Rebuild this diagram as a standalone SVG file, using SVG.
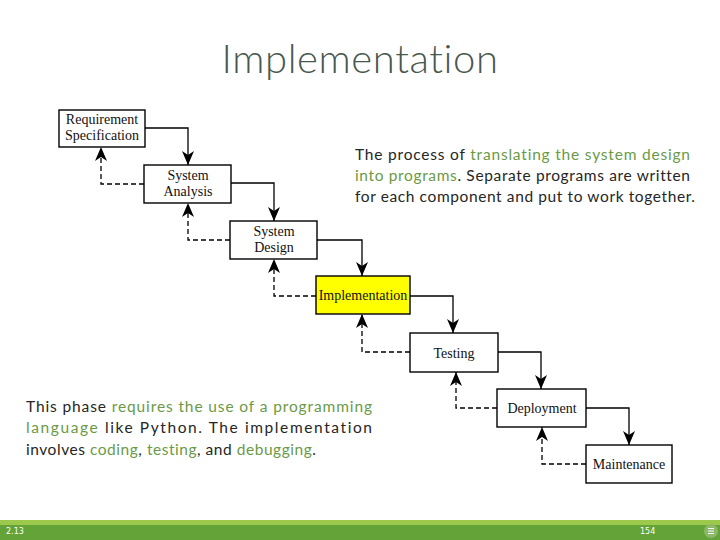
<svg xmlns="http://www.w3.org/2000/svg" width="720" height="540" viewBox="0 0 720 540">
<defs>
<marker id="ah" viewBox="0 0 14 12" refX="14" refY="6" markerWidth="14" markerHeight="12" markerUnits="userSpaceOnUse" orient="auto">
<path d="M0,0 L4,6 L0,12 L14,6 Z" fill="#000"/>
</marker>
<style>
text{font-variant-ligatures:none}
.box{fill:#fff;stroke:#000;stroke-width:1.4}
.lbl{font-family:"Liberation Serif","Times New Roman",serif;font-size:14px;fill:#111;text-anchor:middle}
.fw{fill:none;stroke:#000;stroke-width:1.3}
.bw{fill:none;stroke:#000;stroke-width:1.3;stroke-dasharray:5,3}
.para{font-family:Lato,"Open Sans",sans-serif;font-size:15.5px;fill:#262626}
.g{fill:#6b9a47}
.foot{font-family:"DejaVu Sans",sans-serif;font-size:8px;fill:#fff}
</style>
</defs>
<rect width="720" height="540" fill="#fff"/>
<text x="360" y="73" text-anchor="middle" font-family="Lato,'Open Sans',sans-serif" font-weight="300" font-size="40" letter-spacing="0.6" fill="#48584e">Implementation</text>

<g id="connectors">
<path class="fw" d="M145,128 H188 V165" marker-end="url(#ah)"/>
<path class="fw" d="M231,183 H274 V221" marker-end="url(#ah)"/>
<path class="fw" d="M317,240 H362 V276" marker-end="url(#ah)"/>
<path class="fw" d="M410,296 H453 V333" marker-end="url(#ah)"/>
<path class="fw" d="M498,352 H541 V389" marker-end="url(#ah)"/>
<path class="fw" d="M586,408 H629 V445" marker-end="url(#ah)"/>
<path class="bw" d="M144,184 H101 V147" marker-end="url(#ah)"/>
<path class="bw" d="M230,240 H188 V203" marker-end="url(#ah)"/>
<path class="bw" d="M316,296 H274 V259" marker-end="url(#ah)"/>
<path class="bw" d="M410,352 H362 V314" marker-end="url(#ah)"/>
<path class="bw" d="M497,408 H456 V372" marker-end="url(#ah)"/>
<path class="bw" d="M586,464 H542 V427" marker-end="url(#ah)"/>
</g>

<g id="req">
<rect class="box" x="59" y="110" width="86" height="37"/>
<text class="lbl" x="102" y="124">Requirement</text>
<text class="lbl" x="102" y="140">Specification</text>
</g>
<g id="analysis">
<rect class="box" x="144" y="165" width="87" height="38"/>
<text class="lbl" x="188" y="180">System</text>
<text class="lbl" x="188" y="196">Analysis</text>
</g>
<g id="design">
<rect class="box" x="230" y="221" width="87" height="38"/>
<text class="lbl" x="274" y="236">System</text>
<text class="lbl" x="274" y="252">Design</text>
</g>
<g id="implementation">
<rect class="box" x="316" y="276" width="94" height="38" style="fill:#ffff00"/>
<text class="lbl" x="363" y="300">Implementation</text>
</g>
<g id="testing">
<rect class="box" x="410" y="333" width="88" height="39"/>
<text class="lbl" x="454" y="358">Testing</text>
</g>
<g id="deployment">
<rect class="box" x="497" y="389" width="89" height="38"/>
<text class="lbl" x="542" y="413">Deployment</text>
</g>
<g id="maintenance">
<rect class="box" x="586" y="445" width="86" height="38"/>
<text class="lbl" x="629" y="469">Maintenance</text>
</g>

<g id="text1" class="para">
<text x="355" y="160" textLength="335" lengthAdjust="spacing">The process of <tspan class="g">translating the system design</tspan></text>
<text x="355" y="181" textLength="335" lengthAdjust="spacing"><tspan class="g">into programs</tspan>. Separate programs are written</text>
<text x="355" y="202" textLength="340" lengthAdjust="spacing">for each component and put to work together.</text>
</g>
<g id="text2" class="para">
<text x="26" y="412" textLength="346" lengthAdjust="spacing">This phase <tspan class="g">requires the use of a programming</tspan></text>
<text x="26" y="433" textLength="346" lengthAdjust="spacing"><tspan class="g">language</tspan> like Python. The implementation</text>
<text x="26" y="455" textLength="290" lengthAdjust="spacing">involves <tspan class="g">coding</tspan>, <tspan class="g">testing</tspan>, and <tspan class="g">debugging</tspan>.</text>
</g>

<g id="footer">
<rect x="0" y="520" width="720" height="5" fill="#9cc84b"/>
<rect x="0" y="525" width="720" height="15" fill="#64a337"/>
<text class="foot" x="6" y="534">2.13</text>
<text class="foot" x="640" y="534">154</text>
<circle cx="711" cy="531" r="7" fill="#8db86a"/>
<path d="M708,528.5 H714 M708,531 H714 M708,533.5 H714" stroke="#fff" stroke-width="1"/>
</g>
</svg>
